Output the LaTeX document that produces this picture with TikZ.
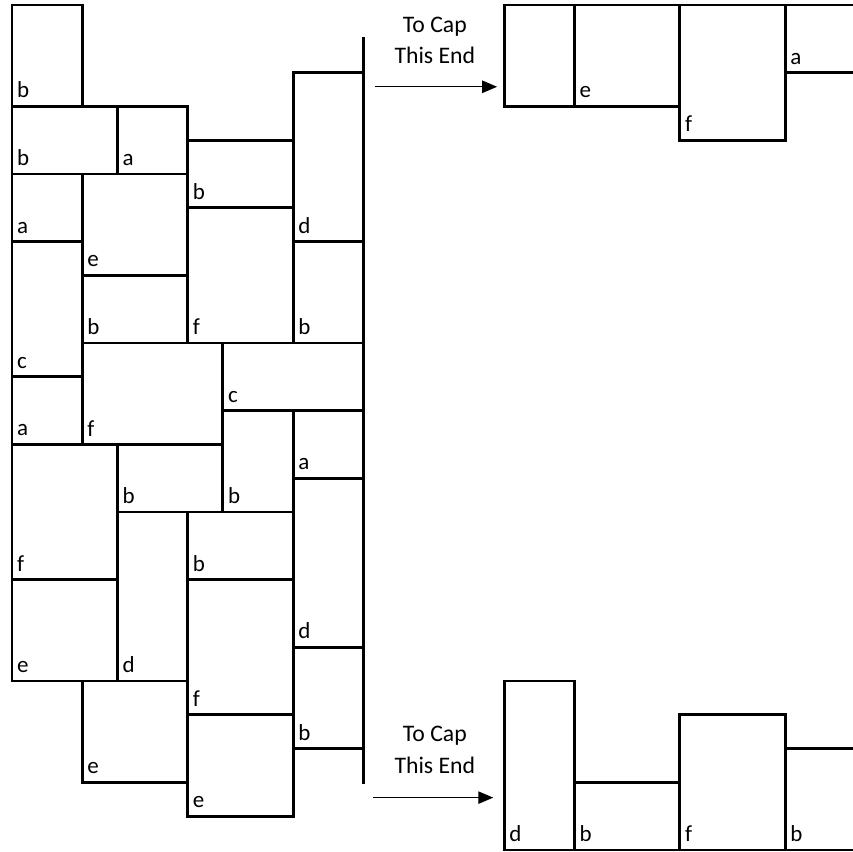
\documentclass[tikz,border=0pt]{standalone}
\usepackage{fontspec}
\setmainfont{Carlito}
\usetikzlibrary{arrows.meta}

\begin{document}
\begin{tikzpicture}[
	x=0.5cm, y=-0.4808cm,
	brick/.style={draw, line width=1.2pt, line cap=rect},
	lbl/.style={anchor=south west, inner xsep=1.5pt, inner ysep=2.8pt, font=\fontsize{9.3}{11}\selectfont},
	capnote/.style={anchor=base, inner sep=0pt, font=\fontsize{9.6}{12}\selectfont},
	caparrow/.style={-{Triangle[length=6pt, width=5pt]}, line width=.5pt}
	]
	\useasboundingbox (-0.3414,-0.148) rectangle (23.926,25.03);
	% left stack
	\draw[brick] (2,0) rectangle (0,3) node[lbl] (l1) {b};
	\draw[brick] (3,3) rectangle (0,5) node[lbl] (l2) {b};
	\draw[brick] (5,3) rectangle (3,5) node[lbl] (l3) {a};
	\draw[brick] (8,4) rectangle (5,6) node[lbl] (l4) {b};
	\draw[brick] (10,2) rectangle (8,7) node[lbl] (l5) {d};
	\draw[brick] (2,5) rectangle (0,7) node[lbl] (l6) {a};
	\draw[brick] (5,5) rectangle (2,8) node[lbl] (l7) {e};
	\draw[brick] (5,8) rectangle (2,10) node[lbl] (l8) {b};
	\draw[brick] (8,6) rectangle (5,10) node[lbl] (l9) {f};
	\draw[brick] (10,7) rectangle (8,10) node[lbl] (l10) {b};
	\draw[brick] (2,7) rectangle (0,11) node[lbl] (l11) {c};
	\draw[brick] (10,10) rectangle (6,12) node[lbl] (l12) {c};
	\draw[brick] (2,11) rectangle (0,13) node[lbl] (l13) {a};
	\draw[brick] (6,10) rectangle (2,13) node[lbl] (l14) {f};
	\draw[brick] (10,12) rectangle (8,14) node[lbl] (l15) {a};
	\draw[brick] (6,13) rectangle (3,15) node[lbl] (l16) {b};
	\draw[brick] (8,12) rectangle (6,15) node[lbl] (l17) {b};
	\draw[brick] (3,13) rectangle (0,17) node[lbl] (l18) {f};
	\draw[brick] (8,15) rectangle (5,17) node[lbl] (l19) {b};
	\draw[brick] (10,14) rectangle (8,19) node[lbl] (l20) {d};
	\draw[brick] (3,17) rectangle (0,20) node[lbl] (l21) {e};
	\draw[brick] (5,15) rectangle (3,20) node[lbl] (l22) {d};
	\draw[brick] (8,17) rectangle (5,21) node[lbl] (l23) {f};
	\draw[brick] (10,19) rectangle (8,22) node[lbl] (l24) {b};
	\draw[brick] (5,20) rectangle (2,23) node[lbl] (l25) {e};
	\draw[brick] (8,21) rectangle (5,24) node[lbl] (l26) {e};
	\draw[brick] (10,1) -- (10,23);
	% top end
	\draw[brick] (14,0) rectangle (16,3);
	\draw[brick] (19,0) rectangle (16,3) node[lbl] (t1) {e};
	\draw[brick] (22,0) rectangle (19,4) node[lbl] (t2) {f};
	\draw[brick] (24,0) -- (22,0) -- (22,2) node[lbl] (t3) {a} -- (24,2);
	% bottom end
	\draw[brick] (16,20) rectangle (14,25) node[lbl] (b1) {d};
	\draw[brick] (19,23) rectangle (16,25) node[lbl] (b2) {b};
	\draw[brick] (22,21) rectangle (19,25) node[lbl] (b3) {f};
	\draw[brick] (24,22) -- (22,22) -- (22,25) node[lbl] (b4) {b} -- (24,25);
	% arrows
	\node[capnote] (capa) at (12.03,0.80) {To Cap};
	\node[capnote] (capb) at (12.03,1.72) {This End};
	\coordinate (ta) at (10.33,2.42);
	\coordinate (tb) at (13.80,2.42);
	\draw[caparrow] (ta) -- (tb);
	\node[capnote] (capc) at (12.03,21.78) {To Cap};
	\node[capnote] (capd) at (12.03,22.75) {This End};
	\coordinate (ba) at (10.27,23.45);
	\coordinate (bb) at (13.69,23.45);
	\draw[caparrow] (ba) -- (bb);
\end{tikzpicture}
\end{document}
